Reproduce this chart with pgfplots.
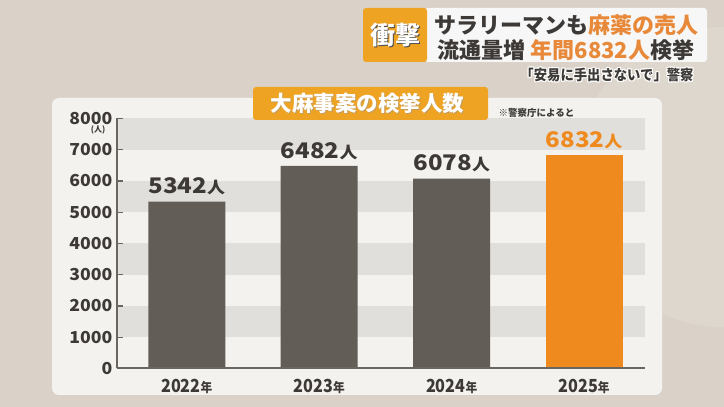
\documentclass[border=0pt]{standalone}
\usepackage{fontspec}
\setmainfont{Noto Sans CJK JP}
\newfontfamily\widefont{Noto Sans CJK JP}[FakeStretch=1.12]
\newfontfamily\ywidefont{Noto Sans CJK JP}[FakeStretch=1.07]
\newfontfamily\narrowfont{Noto Sans CJK JP}[FakeStretch=0.9]
\newfontfamily\subfont{Noto Sans CJK JP}[FakeStretch=0.92]
\usepackage{pgfplots}
\pgfplotsset{compat=1.18}
\definecolor{bgc}{HTML}{DAD2C8}
\definecolor{panelc}{HTML}{F4F2EF}
\definecolor{bandc}{HTML}{E1DFDC}
\definecolor{barc}{HTML}{625D56}
\definecolor{orc}{HTML}{EE8A1E}
\definecolor{axc}{HTML}{6A655F}
\definecolor{txc}{HTML}{3C3936}
\definecolor{titc}{HTML}{EFA322}
\definecolor{hdrorc}{HTML}{E8893A}
\pgfplotstableread{
x y
0 5342
1 6482
2 6078
}\graydata
\pgfplotstableread{
x y
3 6832
}\orangedata
\newcommand{\nin}{{\fontsize{16}{16}\selectfont 人}}
\newcommand{\nen}{{\fontsize{13}{13}\selectfont 年}}
\begin{document}
\begin{tikzpicture}[x=1pt,y=1pt]
\path[use as bounding box, clip] (0,0) rectangle (724,407);
\fill[bgc] (0,0) rectangle (724,407);
% faint big circle on right
\fill[white,opacity=0.12] (724,230) circle (150);
% panel
\fill[panelc, rounded corners=7pt] (52,12) rectangle (662,309);
\begin{axis}[
  at={(117pt,38.5pt)}, anchor=south west,
  scale only axis, width=528pt, height=250pt,
  xmin=-0.527, xmax=3.46, ymin=0, ymax=8000,
  axis x line*=bottom, axis y line*=left,
  axis line style={axc, line width=2pt, -},
  clip=false,
  xtick={0,1,2,3},
  xticklabels={2022\nen,2023\nen,2024\nen,2025\nen},
  x tick style={draw=none},
  ytick={0,1000,...,8000},
  y tick style={axc, line width=1.3pt},
  tick align=inside,
  major tick length=6pt,
  /pgf/number format/1000 sep={},
  /pgf/number format/assume math mode=true,
  yticklabel style={font=\ywidefont\bfseries\fontsize{16.5}{16.5}\selectfont, text=txc, xshift=-1pt},
  xticklabel style={font=\narrowfont\bfseries\fontsize{18}{18}\selectfont, text=txc, yshift=-1pt},
  ybar, bar width=77pt, bar shift=0pt,
  nodes near coords={\pgfmathprintnumber[1000 sep={}]{\pgfplotspointmeta}\nin},
  nodes near coords style={font=\widefont\bfseries\fontsize{21.5}{21.5}\selectfont, inner sep=2pt, yshift=4pt},
  axis on top,
]
\fill[bandc] (axis cs:-0.527,1000) rectangle (axis cs:3.46,2000);
\fill[bandc] (axis cs:-0.527,3000) rectangle (axis cs:3.46,4000);
\fill[bandc] (axis cs:-0.527,5000) rectangle (axis cs:3.46,6000);
\fill[bandc] (axis cs:-0.527,7000) rectangle (axis cs:3.46,8000);
\addplot[fill=barc, draw=none, nodes near coords style={text=txc}] table[x=x,y=y] {\graydata};
\addplot[fill=orc, draw=none, nodes near coords style={text=orc}] table[x=x,y=y] {\orangedata};
\end{axis}
% (人) under 8000
\node[font=\bfseries\fontsize{8}{8}\selectfont, text=txc] at (98,277.5) {(人)};
% note
\node[font=\bfseries\fontsize{9.5}{9.5}\selectfont, text=txc, anchor=west] at (495,294) {※警察庁によると};
% chart title box
\fill[titc, rounded corners=3pt] (253,287) rectangle (488,320);
\node[font=\bfseries\fontsize{21.5}{21.5}\selectfont, text=black!40, opacity=0.5] at (368.5,302.5) {大麻事案の検挙人数};
\node[font=\bfseries\fontsize{21.5}{21.5}\selectfont, text=white] at (367.5,303.5) {大麻事案の検挙人数};
% header
\fill[white!97!black, rounded corners=3pt] (425,345) rectangle (707,399);
\fill[titc, rounded corners=3pt] (363,345) rectangle (427,399);
\node[font=\bfseries\fontsize{25}{25}\selectfont, text=black!70] at (396,371) {衝撃};
\node[font=\bfseries\fontsize{25}{25}\selectfont, text=white] at (395,372) {衝撃};
\node[font=\bfseries\fontsize{22}{22}\selectfont, text=txc, anchor=center] at (566,382) {サラリーマンも\textcolor{hdrorc}{麻薬の売人}};
\node[font=\bfseries\fontsize{22}{22}\selectfont, text=txc, anchor=center] at (566,357) {流通量増 \textcolor{hdrorc}{年間6832人}検挙};
% subtitle with white outline
\foreach \dx/\dy in {1/0,-1/0,0/1,0/-1,1/1,1/-1,-1/1,-1/-1}{
  \node[font=\subfont\bfseries\fontsize{14.5}{14.5}\selectfont, text=white] at (607+\dx,332+\dy) {「安易に手出さないで」警察};
}
\node[font=\subfont\bfseries\fontsize{14.5}{14.5}\selectfont, text=txc] at (607,332) {「安易に手出さないで」警察};
\end{tikzpicture}
\end{document}
